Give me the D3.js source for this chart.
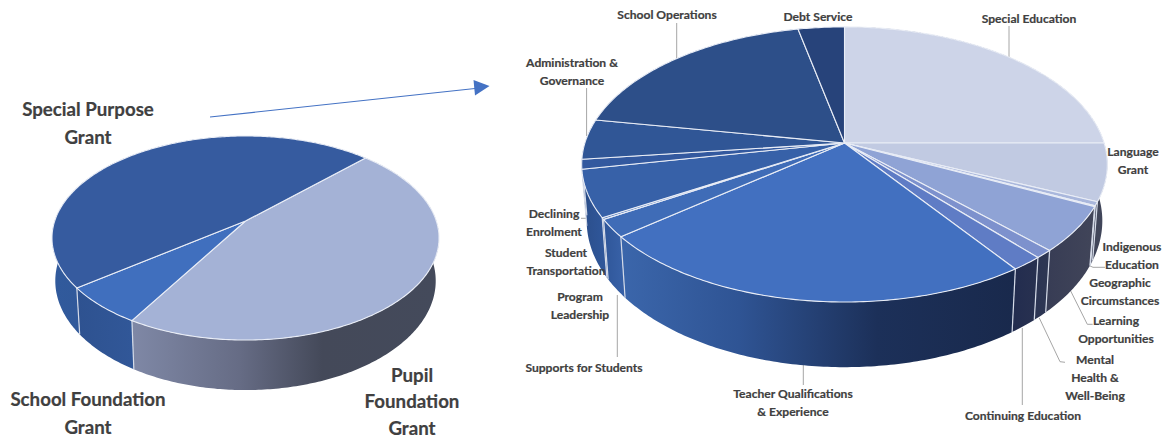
<!DOCTYPE html>
<html>
<head>
<meta charset="utf-8">
<script src="https://cdn.jsdelivr.net/npm/d3@7"></script>
<style>
  html, body { margin: 0; padding: 0; background: #fff; }
  svg { display: block; }
  text { font-family: Lato, "Open Sans", sans-serif; font-weight: 700; fill: #404040; stroke: #404040; stroke-width: 0.2px; text-anchor: middle; dominant-baseline: central; }
</style>
</head>
<body>
<svg id="chart" width="1164" height="439"></svg>
<script>
// Overall funding split (share of total, %)
const overviewCategories = ["Pupil Foundation Grant", "School Foundation Grant", "Special Purpose Grant"];
const overviewValues = [46.1, 6.1, 47.8];
const overviewTopColors = ["#a4b2d6", "#406fbe", "#365b9f"];
const overviewWallStops = [
  [[0, "#7f88a6"], [0.35, "#666c85"], [0.62, "#444959"], [1, "#444a5b"]],
  [[0, "#2e5290"], [1, "#315798"]],
  [[0, "#315a9c"], [1, "#2b4e8b"]]
];

// Special purpose grant breakdown (share of total, %)
const detailCategories = [
  "Special Education", "Language Grant", "Indigenous Education", "Geographic Circumstances",
  "Learning Opportunities", "Mental Health & Well-Being", "Continuing Education",
  "Teacher Qualifications & Experience", "Supports for Students", "Program Leadership",
  "Student Transportation", "Declining Enrolment", "Administration & Governance",
  "School Operations", "Debt Service"
];
const detailValues = [25.0, 6.72, 0.44, 0.11, 5.33, 0.97, 1.69, 23.89, 2.08, 0.19, 5.53, 1.14, 4.72, 18.86, 3.31];
const detailTopColors = [
  "#cdd4e8", "#c1cae2", "#a9b7dc", "#a0afd9", "#8fa3d5", "#7d91cd", "#5f7cc5",
  "#4270c0", "#3f6cb7", "#3c68b1", "#3761a8", "#33599f", "#305696", "#2d4f89", "#27437a"
];
const detailWallStops = [
  [[0, "#3f4459"], [1, "#3f4459"]],
  [[0, "#41465a"], [1, "#3f4459"]],
  [[0, "#3f4459"], [1, "#3f4459"]],
  [[0, "#3f4459"], [1, "#3f4459"]],
  [[0, "#383d55"], [1, "#414559"]],
  [[0, "#2c3553"], [1, "#2e3753"]],
  [[0, "#232d4f"], [1, "#283150"]],
  [[0, "#3b66ab"], [0.3, "#2f5494"], [0.65, "#1c3059"], [1, "#19294c"]],
  [[0, "#2f5699"], [1, "#3760a6"]],
  [[0, "#2f5699"], [1, "#2f5699"]],
  [[0, "#2b4e8a"], [1, "#2f5699"]],
  [[0, "#2b4e8a"], [1, "#2b4e8a"]],
  [[0, "#2b4e8a"], [1, "#2b4e8a"]],
  [[0, "#2b4e8a"], [1, "#2b4e8a"]],
  [[0, "#2b4e8a"], [1, "#2b4e8a"]]
];

// Label lines for each pie
const overviewLabels = [
  { lines: ["Special Purpose", "Grant"], x: 88, y: 109, lead: 27.7 },
  { lines: ["School Foundation", "Grant"], x: 88, y: 399, lead: 27.7 },
  { lines: ["Pupil", "Foundation", "Grant"], x: 412, y: 374.5, lead: 26.7 }
];
const detailLabels = [
  { lines: ["School Operations"], x: 667, y: 14 },
  { lines: ["Debt Service"], x: 818, y: 16 },
  { lines: ["Special Education"], x: 1029, y: 18 },
  { lines: ["Administration &", "Governance"], x: 572, y: 62 },
  { lines: ["Language", "Grant"], x: 1133, y: 151 },
  { lines: ["Indigenous", "Education"], x: 1132, y: 246 },
  { lines: ["Geographic", "Circumstances"], x: 1120, y: 282 },
  { lines: ["Learning", "Opportunities"], x: 1116, y: 320.5 },
  { lines: ["Mental", "Health &", "Well-Being"], x: 1095, y: 359 },
  { lines: ["Continuing Education"], x: 1023, y: 415 },
  { lines: ["Teacher Qualifications", "& Experience"], x: 793, y: 393 },
  { lines: ["Supports for Students"], x: 584, y: 367 },
  { lines: ["Program", "Leadership"], x: 580, y: 296 },
  { lines: ["Student", "Transportation"], x: 566, y: 252 },
  { lines: ["Declining", "Enrolment"], x: 554, y: 213 }
];
const detailLeaders = [
  [[586.6, 88], [586.6, 136]],
  [[676.7, 23], [676.7, 60]],
  [[1009, 26], [1009, 60]],
  [[581, 218.3], [586, 218.3]],
  [[617.3, 295], [617.3, 357]],
  [[803.3, 365], [803.3, 385]],
  [[1022.3, 328], [1022.3, 405]],
  [[1039.3, 318], [1060, 361.7], [1065, 362.3]],
  [[1070.7, 291], [1087.3, 324.3], [1092.7, 324.3]],
  [[1088, 265], [1093, 267.3], [1105, 267.3]]
];

const svg = d3.select("#chart");
const defs = svg.append("defs");
const lineGen = d3.line();
const polyline = d3.line().x(d => d[0]).y(d => d[1]);

// A tilted cylinder: the top disc is a circle under perspective, with the wall hanging below it
function drawPie(cfg) {
  const pie = d3.pie().sort(null).value(d => d).startAngle(cfg.start).endAngle(cfg.start + 2 * Math.PI);
  const arcs = pie(cfg.values);

  const project = (a, lower) => {
    const u = Math.sin(a), v = -Math.cos(a);
    const w = 1 - cfg.k * v;
    const s = lower ? cfg.shrink : 1;
    return [
      cfg.x + cfg.rx * u / w * s,
      cfg.y + cfg.ry * v / w + (lower ? cfg.depth / w : 0)
    ];
  };
  const sweep = (a0, a1) => d3.range(a0, a1, Math.PI / 240).concat([a1]);

  // Wall pieces, painted first so the disc covers their rear part
  arcs.forEach((d, i) => {
    const angles = sweep(d.startAngle, d.endAngle);
    const top = angles.map(a => project(a, false));
    const low = angles.map(a => project(a, true)).reverse();
    const xs = top.map(p => p[0]);
    const x0 = d3.min(xs), x1 = d3.max(xs);
    const id = cfg.id + "-wall-" + i;
    const grad = defs.append("linearGradient").attr("id", id)
      .attr("gradientUnits", "userSpaceOnUse")
      .attr("x1", x0).attr("x2", Math.max(x1, x0 + 1)).attr("y1", 0).attr("y2", 0);
    cfg.wallStops[i].forEach(s => grad.append("stop").attr("offset", s[0]).attr("stop-color", s[1]));
    svg.append("path").attr("d", lineGen(top.concat(low)) + "Z").attr("fill", `url(#${id})`);
  });

  // Seams between wall pieces, only on the side facing the viewer
  arcs.forEach(d => {
    if (-Math.cos(d.startAngle) > 0.05) {
      svg.append("path")
        .attr("d", polyline([project(d.startAngle, false), project(d.startAngle, true)]))
        .attr("fill", "none").attr("stroke", "#d5dbe8").attr("stroke-width", 1.2);
    }
  });

  // Top surface of each slice
  arcs.forEach((d, i) => {
    const pts = [[cfg.x, cfg.y]].concat(sweep(d.startAngle, d.endAngle).map(a => project(a, false)));
    svg.append("path").attr("d", lineGen(pts) + "Z")
      .attr("fill", cfg.topColors[i])
      .attr("stroke", "#e9edf6").attr("stroke-width", 1.1).attr("stroke-linejoin", "round");
  });
}

function drawLabels(labels, size, lead) {
  labels.forEach(l => {
    l.lines.forEach((t, j) => {
      svg.append("text").attr("x", l.x).attr("y", l.y + j * (l.lead || lead))
        .attr("font-size", size).text(t);
    });
  });
}

// Leader lines sit under the pie
detailLeaders.forEach(pts => {
  svg.append("path").attr("d", polyline(pts)).attr("fill", "none")
    .attr("stroke", "#a6a6a6").attr("stroke-width", 1);
});

drawPie({
  id: "overview", values: overviewValues, topColors: overviewTopColors, wallStops: overviewWallStops,
  x: 245.5, y: 221, rx: 190.8, ry: 99.2, k: 0.1667, depth: 41.7, shrink: 0.983,
  start: 44.7 * Math.PI / 180
});
drawPie({
  id: "detail", values: detailValues, topColors: detailTopColors, wallStops: detailWallStops,
  x: 844.5, y: 143, rx: 259.6, ry: 134.2, k: 0.156, depth: 55, shrink: 0.981,
  start: 0
});

// Arrow leading from the special purpose slice to its breakdown
svg.append("path").attr("d", polyline([[210, 117], [475, 88.5]]))
  .attr("fill", "none").attr("stroke", "#4472c4").attr("stroke-width", 1.2);
svg.append("path").attr("d", polyline([[473.5, 80], [489.5, 86], [475, 95.5]]) + "Z").attr("fill", "#4472c4");

drawLabels(overviewLabels, 18.7, 27.7);
drawLabels(detailLabels, 12.1, 18);
</script>
</body>
</html>
